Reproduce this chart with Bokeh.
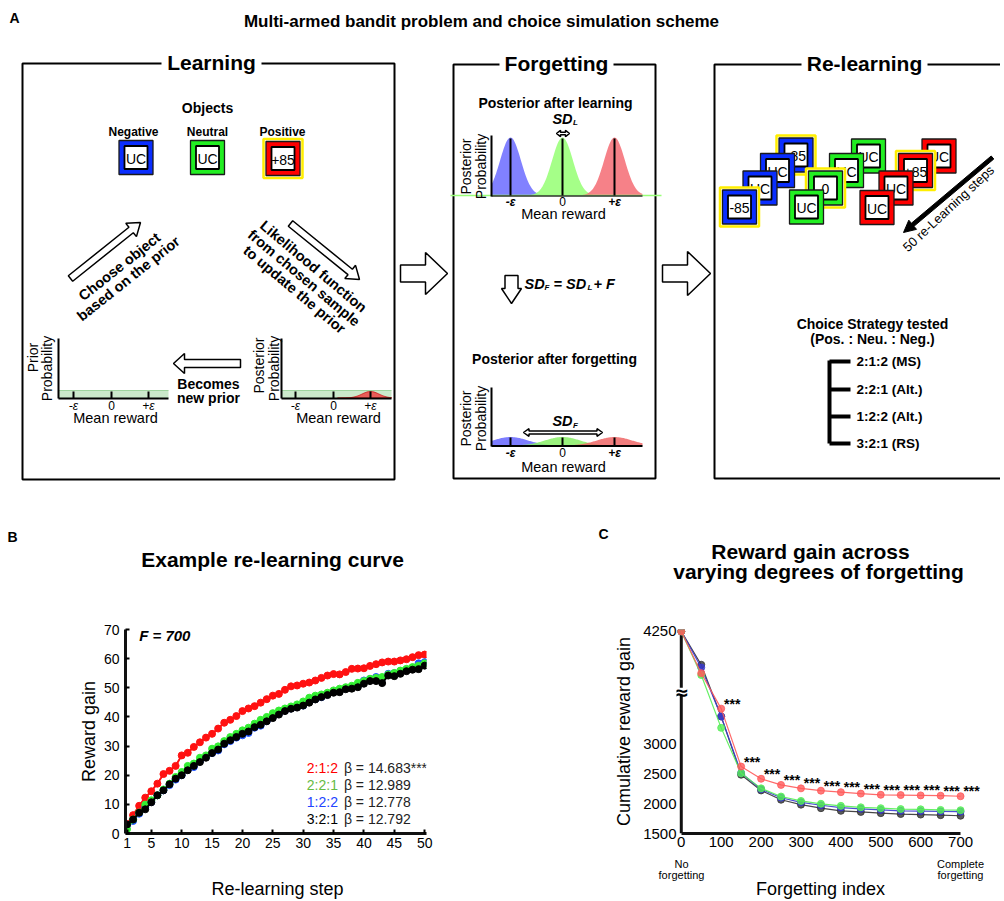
import math
import numpy as np
from bokeh.plotting import figure
from bokeh.layouts import column, row
from bokeh.models import Range1d, FixedTicker
from bokeh.core.properties import value
from bokeh.embed import file_html
from bokeh.resources import INLINE

FONT = "Liberation Sans"

# ---------------- Panel B data (re-learning curve, F = 700) ----------------
steps = list(range(1, 51))
relearn_212 = [3.2, 6.3, 9.5, 12.3, 14.5, 17.1, 20.4, 21.5, 23.2, 26.8,
               27.7, 29.7, 31.3, 32.9, 34.2, 36.0, 38.0, 39.0, 40.3, 42.0,
               42.9, 43.7, 44.9, 46.1, 47.3, 47.9, 49.3, 50.5, 50.8, 51.4,
               51.8, 52.5, 53.4, 54.2, 54.7, 54.6, 55.4, 56.5, 56.6, 56.7,
               57.5, 58.1, 58.7, 59.0, 59.0, 59.4, 59.8, 60.5, 61.2, 61.4]
relearn_221 = [1.5, 4.8, 7.2, 9.9, 11.4, 13.1, 15.1, 17.1, 19.4, 21.1,
               23.2, 24.0, 26.0, 26.8, 29.1, 29.9, 31.7, 33.1, 34.2, 35.4,
               36.3, 37.7, 39.0, 40.0, 41.3, 42.2, 42.9, 43.6, 44.3, 45.3,
               46.6, 47.3, 47.7, 48.3, 49.1, 49.7, 50.2, 50.7, 51.7, 52.3,
               53.1, 53.4, 53.7, 54.6, 55.1, 55.9, 56.5, 57.1, 57.6, 58.4]
relearn_122 = [2.9, 4.3, 6.8, 8.9, 10.8, 13.1, 14.8, 16.6, 18.5, 20.0,
               21.9, 22.8, 24.9, 26.3, 27.6, 28.5, 30.6, 31.7, 32.9, 33.7,
               34.5, 36.3, 37.0, 38.6, 40.0, 41.1, 42.2, 42.9, 43.4, 43.9,
               45.4, 46.1, 46.8, 47.7, 48.6, 48.9, 49.8, 50.2, 50.6, 52.5,
               53.0, 53.7, 53.4, 54.8, 55.0, 55.7, 56.2, 56.8, 58.4, 58.8]
relearn_321 = [3.1, 4.8, 7.1, 8.3, 10.7, 13.1, 14.8, 16.9, 18.8, 20.0,
               21.7, 23.2, 24.5, 26.0, 27.6, 28.8, 30.8, 32.0, 33.1, 34.2,
               35.0, 36.5, 37.3, 38.5, 39.6, 40.8, 42.0, 42.8, 43.2, 43.9,
               44.9, 46.0, 46.8, 47.5, 48.3, 48.5, 49.5, 49.7, 50.2, 51.4,
               52.3, 52.3, 51.6, 54.2, 54.0, 54.8, 55.7, 56.2, 56.4, 57.6]
b_ticks_x = [1, 5, 10, 15, 20, 25, 30, 35, 40, 45, 50]
b_ticks_y = [0, 10, 20, 30, 40, 50, 60, 70]
strategies = ["2:1:2", "2:2:1", "1:2:2", "3:2:1"]
betas = ["\u03b2 = 14.683***", "\u03b2 = 12.989", "\u03b2 = 12.778", "\u03b2 = 12.792"]
strategy_colors = ["#ff0000", "#66bb44", "#2244ff", "#000000"]
curve_colors = ["#ff1111", "#33ee33", "#2255ff", "#000000"]

# ---------------- Panel C data (cumulative reward vs forgetting) ----------------
forget_idx = [0, 50, 100, 150, 200, 250, 300, 350, 400, 450, 500, 550, 600, 650, 700]
cum_212 = [4250, 4003, 3597, 2624, 2419, 2316, 2258, 2219, 2194, 2170, 2150, 2145, 2140, 2135, 2126]
cum_221 = [4250, 3992, 3274, 2512, 2258, 2121, 2047, 1999, 1964, 1940, 1925, 1910, 1906, 1896, 1891]
cum_122 = [4250, 4037, 3465, 2517, 2243, 2101, 2023, 1974, 1935, 1915, 1896, 1881, 1876, 1871, 1867]
cum_321 = [4250, 4053, 3465, 2487, 2223, 2067, 1984, 1925, 1881, 1862, 1842, 1827, 1818, 1808, 1798]
sig_idx = [100, 150, 200, 250, 300, 350, 400, 450, 500, 550, 600, 650, 700]
c_ticks_y = [1500, 2000, 2500, 3000, 4250]
c_ticks_x = [0, 100, 200, 300, 400, 500, 600, 700]
c_break_value = 3882

BREAK = 3900.0
UPPER = 2.84


def warp(v):
    return v if v <= BREAK else BREAK + (v - BREAK) * UPPER


def style_of(bold, italic):
    if bold and italic:
        return "bold italic"
    if bold:
        return "bold"
    if italic:
        return "italic"
    return "normal"


def T(p, x, y, s, size=14, bold=False, italic=False, color="black", align="center",
      baseline="middle", angle=0.0):
    p.text(x=[x], y=[y], text=[s], text_font=value(FONT), text_font_size=f"{size}px",
           text_font_style=style_of(bold, italic), text_color=color, text_align=align,
           text_baseline=baseline, angle=math.radians(angle))


def arrow_poly(x0, y0, x1, y1, sw, hw, hl, double=False):
    dx, dy = x1 - x0, y1 - y0
    L = math.hypot(dx, dy)
    ux, uy = dx / L, dy / L
    nx, ny = -uy, ux
    bx, by = x1 - ux * hl, y1 - uy * hl
    pts = []
    if double:
        ax, ay = x0 + ux * hl, y0 + uy * hl
        pts += [(x0, y0), (ax + nx * hw, ay + ny * hw), (ax + nx * sw, ay + ny * sw)]
    else:
        pts += [(x0 + nx * sw, y0 + ny * sw)]
    pts += [(bx + nx * sw, by + ny * sw), (bx + nx * hw, by + ny * hw), (x1, y1),
            (bx - nx * hw, by - ny * hw), (bx - nx * sw, by - ny * sw)]
    if double:
        pts += [(ax - nx * sw, ay - ny * sw), (ax - nx * hw, ay - ny * hw)]
    else:
        pts += [(x0 - nx * sw, y0 - ny * sw)]
    return [q[0] for q in pts], [q[1] for q in pts]


def draw_arrow(p, x0, y0, x1, y1, sw, hw, hl, fill="white", lw=1.5, double=False):
    xs, ys = arrow_poly(x0, y0, x1, y1, sw, hw, hl, double)
    p.patch(xs, ys, fill_color=fill, line_color="black", line_width=lw)


def obj_square(p, cx, cy, color, label, yellow=False):
    if yellow:
        p.rect([cx], [cy], 39, 39, fill_color="white", line_color="#ffee00", line_width=2.5)
    p.rect([cx], [cy], 34, 34, fill_color=color, line_color="#1a1a1a", line_width=1.3)
    p.rect([cx], [cy], 23, 23, fill_color="white", line_color="black", line_width=1.8)
    T(p, cx, cy + 1, label, size=14)


def canvas(width, height, y0, y1):
    p = figure(width=width, height=height, x_range=Range1d(0, width), y_range=Range1d(y1, y0),
               output_backend="svg", toolbar_location=None, min_border=0,
               x_axis_location=None, y_axis_location=None)
    p.grid.visible = False
    p.outline_line_color = None
    return p


# ======================= Panel A (schematic) + titles of B and C =======================
pa = canvas(1000, 588, 0, 588)

T(pa, 14, 17, "A", size=14, bold=True)
T(pa, 481, 21, "Multi-armed bandit problem and choice simulation scheme", size=17, bold=True)

boxes = [(22, 394, 63, 479, "Learning", 211, 100),
         (453, 655, 64, 478, "Forgetting", 556, 114),
         (714, 1010, 64, 478, "Re-learning", 864, 126)]
for l, r, t, b, title, tx, gap in boxes:
    pa.quad(left=[l], right=[r], top=[t], bottom=[b], fill_color=None,
            line_color="black", line_width=2)
    pa.rect([tx], [t], gap, 8, fill_color="white", line_color=None)
    T(pa, tx, t - 1, title, size=21, bold=True)

# ---- Learning panel ----
T(pa, 207, 107, "Objects", size=14, bold=True)
T(pa, 133, 131, "Negative", size=12, bold=True)
T(pa, 207, 131, "Neutral", size=12, bold=True)
T(pa, 282, 131, "Positive", size=12, bold=True)
obj_square(pa, 135.5, 157, "#0a2eff", "UC")
obj_square(pa, 207, 157, "#22ee22", "UC")
obj_square(pa, 282.5, 158, "#ff0000", "+85", yellow=True)

draw_arrow(pa, 70, 278, 140, 222, 3.5, 8.5, 12)
draw_arrow(pa, 290, 223, 359, 279, 3.5, 8.5, 12)
T(pa, 119, 266, "Choose object", size=14.5, bold=True, angle=38.5)
T(pa, 128, 278, "based on the prior", size=14.5, bold=True, angle=38.5)
T(pa, 313, 266, "Likelihood function", size=14.5, bold=True, angle=-40)
T(pa, 303.5, 277.5, "from chosen sample", size=14.5, bold=True, angle=-40)
T(pa, 294, 289, "to update the prior", size=14.5, bold=True, angle=-40)

for (ax0, ax1, ticks, ylab1, ylab2, lx1, lx2, cy1, cy2, bump) in [
        (58, 168, [73, 111, 148], "Prior", "Probability", 32, 46, 357, 368, False),
        (281, 391, [295, 333, 370], "Posterior", "Probability", 258, 273, 365, 368, True)]:
    pa.quad(left=[ax0], right=[ax1], top=[390], bottom=[398], fill_color="#cbe9cb",
            line_color=None)
    pa.line([ax0, ax1], [390, 390], line_color="#9fd49f", line_width=1)
    if bump:
        bx = np.linspace(337, 391, 60)
        by = 397.5 - 6.5 * np.exp(-((bx - 370) / 12.0) ** 2)
        pa.patch(np.r_[bx, bx[::-1]], np.r_[by, np.full_like(bx, 397.5)],
                 fill_color="#ee4444", fill_alpha=0.85, line_color="#cc1111", line_width=0.8)
    pa.line([ax0, ax0], [338, 398], line_color="black", line_width=2)
    pa.line([ax0, ax1], [398, 398], line_color="black", line_width=2)
    for tx, tl in zip(ticks, ["-\u03b5", "0", "+\u03b5"]):
        pa.line([tx, tx], [398, 391], line_color="black", line_width=2)
        T(pa, tx, 405, tl, size=12, italic=(tl != "0"))
    T(pa, (ax0 + ax1) / 2 + 2, 417, "Mean reward", size=14.5)
    T(pa, lx1, cy1, ylab1, size=14, angle=90)
    T(pa, lx2, cy2, ylab2, size=14, angle=90)

draw_arrow(pa, 240, 363, 173, 363, 4, 10, 11)
T(pa, 208, 383, "Becomes", size=14, bold=True)
T(pa, 208, 397, "new prior", size=14, bold=True)

draw_arrow(pa, 400, 273, 447, 273, 8.5, 21, 22)
draw_arrow(pa, 662, 273, 710, 273, 8.5, 22, 23)

# ---- Forgetting panel ----
T(pa, 555, 102, "Posterior after learning", size=14, bold=True)
T(pa, 562, 118, "SD", size=14.5, bold=True, italic=True)
T(pa, 575, 122, "L", size=8, bold=True, italic=True)
draw_arrow(pa, 556, 133, 569, 133, 1.2, 3.2, 4, double=True)

X0, EPS = 562.0, 52.0
gx = np.linspace(491, 642, 200)
for c, col in [(-1, "#6f6fff"), (0, "#99ff77"), (1, "#f57077")]:
    gy = 195 - 58 * np.exp(-(((gx - X0) / EPS) - c) ** 2 / (2 * 0.2 ** 2))
    pa.patch(np.r_[gx, gx[::-1]], np.r_[gy, np.full_like(gx, 195)], fill_color=col,
             fill_alpha=0.88, line_color=None)
pa.line([450, 661], [195, 195], line_color="#99ff77", line_width=1.5)
pa.line([491, 642], [195.5, 195.5], line_color="#333333", line_width=1.5)
pa.line([491, 491], [135, 196], line_color="black", line_width=2)
for c in (-1, 0, 1):
    pa.line([X0 + c * EPS] * 2, [195, 138], line_color="black", line_width=2)
for c, tl in zip((-1, 0, 1), ["-\u03b5", "0", "+\u03b5"]):
    T(pa, X0 + c * EPS, 201, tl, size=12, bold=(tl != "0"), italic=(tl != "0"))
T(pa, 563, 213, "Mean reward", size=14.5)
T(pa, 465, 166, "Posterior", size=14, angle=90)
T(pa, 480, 166, "Probability", size=14, angle=90)

draw_arrow(pa, 511, 275, 511, 303, 6.5, 10, 15)
T(pa, 524, 283, "SD", size=14.5, bold=True, italic=True, align="left")
T(pa, 544, 287, "F", size=8, bold=True, italic=True, align="left")
T(pa, 553, 283, "= SD", size=14.5, bold=True, italic=True, align="left")
T(pa, 587, 287, "L", size=8, bold=True, italic=True, align="left")
T(pa, 593, 283, "+ F", size=14.5, bold=True, italic=True, align="left")

T(pa, 554, 358, "Posterior after forgetting", size=14, bold=True)
for c, col in [(-1, "#6666ff"), (0, "#88ee66"), (1, "#ee6666")]:
    gy = 445 - 8.5 * np.exp(-(((gx - X0) / EPS) - c) ** 2 / (2 * 0.33 ** 2))
    pa.patch(np.r_[gx, gx[::-1]], np.r_[gy, np.full_like(gx, 445)], fill_color=col,
             fill_alpha=0.85, line_color=None)
pa.line([491, 491], [387, 446], line_color="black", line_width=2)
pa.line([491, 642], [445.5, 445.5], line_color="black", line_width=2)
for c in (-1, 0, 1):
    pa.line([X0 + c * EPS] * 2, [445, 437], line_color="black", line_width=2)
for c, tl in zip((-1, 0, 1), ["-\u03b5", "0", "+\u03b5"]):
    T(pa, X0 + c * EPS, 452, tl, size=12, bold=(tl != "0"), italic=(tl != "0"))
T(pa, 563, 466, "Mean reward", size=14.5)
T(pa, 465, 418, "Posterior", size=14, angle=90)
T(pa, 480, 418, "Probability", size=14, angle=90)
T(pa, 562, 420, "SD", size=14.5, bold=True, italic=True)
T(pa, 575, 425, "F", size=8, bold=True, italic=True)
draw_arrow(pa, 523, 432, 602, 432, 1.5, 3.8, 5.5, double=True)

# ---- Re-learning panel ----
relearn_objs = [
    (795.5, 154.5, "#0a2eff", "-85", True), (868, 155.5, "#22ee22", "UC", False),
    (938.5, 155.5, "#ff0000", "UC", False), (777, 170, "#0a2eff", "UC", False),
    (846, 170, "#22ee22", "UC", False), (915, 170, "#ff0000", "+85", True),
    (759.5, 187.5, "#0a2eff", "UC", False), (825, 187.5, "#22ee22", "0", True),
    (895.5, 187.5, "#ff0000", "UC", False), (739, 206.5, "#0a2eff", "-85", True),
    (806, 206.5, "#22ee22", "UC", False), (876.5, 207, "#ff0000", "UC", False)]
for cx, cy, col, lab, yel in sorted(relearn_objs, key=lambda o: o[1]):
    obj_square(pa, cx, cy, col, lab, yellow=yel)

draw_arrow(pa, 992, 157, 903, 232, 2, 6, 12, fill="black", lw=1)
T(pa, 948, 208, "50 re-Learning steps", size=13, angle=43)

T(pa, 872, 323, "Choice Strategy tested", size=14, bold=True)
T(pa, 872, 338, "(Pos. : Neu. : Neg.)", size=14, bold=True)
choice_labels = ["2:1:2 (MS)", "2:2:1 (Alt.)", "1:2:2 (Alt.)", "3:2:1 (RS)"]
choice_y = [361, 389, 416, 443]
pa.line([829, 829], [360, 443], line_color="black", line_width=4)
for cy, lab in zip(choice_y, choice_labels):
    pa.line([829, 850], [cy, cy], line_color="black", line_width=4)
    T(pa, 856, cy, lab, size=13.5, bold=True, align="left")

# titles of panels B and C
T(pa, 12, 536, "B", size=14, bold=True)
T(pa, 272, 559, "Example re-learning curve", size=21, bold=True)
T(pa, 603, 533, "C", size=14, bold=True)
T(pa, 810, 551, "Reward gain across", size=21, bold=True)
T(pa, 818, 571, "varying degrees of forgetting", size=21, bold=True)


# ======================= Panel B =======================
def style_axes(p, size="14px"):
    p.grid.visible = False
    p.outline_line_color = None
    for ax in (p.xaxis, p.yaxis):
        ax.axis_line_width = 3
        ax.axis_line_color = "#111111"
        ax.major_tick_in = 4
        ax.major_tick_out = 0
        ax.major_tick_line_width = 2
        ax.minor_tick_line_color = None
        ax.major_label_text_font = FONT
        ax.major_label_text_font_size = size
        ax.major_label_text_color = "black"
        ax.axis_label_text_font = FONT
        ax.axis_label_text_font_size = "18px"
        ax.axis_label_text_font_style = "normal"
        ax.axis_label_text_color = "black"


pb = figure(width=590, height=270, x_range=Range1d(0.75, 50.3), y_range=Range1d(0, 70),
            output_backend="svg", toolbar_location=None,
            min_border_left=125, min_border_right=164, min_border_top=41, min_border_bottom=25)
style_axes(pb)
pb.xaxis.ticker = FixedTicker(ticks=b_ticks_x)
pb.yaxis.ticker = FixedTicker(ticks=b_ticks_y)
pb.yaxis.axis_label = "Reward gain"
pb.xaxis.major_label_standoff = 4
pb.yaxis.major_label_standoff = 6
pb.yaxis.axis_label_standoff = 2

for ys, col in [(relearn_212, curve_colors[0]), (relearn_122, curve_colors[2]),
                (relearn_221, curve_colors[1]), (relearn_321, curve_colors[3])]:
    pb.line(steps, ys, line_color=col, line_width=2)
    pb.scatter(steps, ys, size=7, fill_color=col, line_color=col)

pb.text(x=[3.0], y=[68.0], text=["F = 700"], text_font=value(FONT), text_font_size="15px",
        text_font_style="bold italic", text_baseline="middle", text_align="left")
leg_y = [22.6, 16.8, 10.8, 4.9]
pb.text(x=[30.6] * 4, y=leg_y, text=strategies, text_font=value(FONT), text_font_size="14px",
        text_color=strategy_colors, text_baseline="middle", text_align="left")
pb.text(x=[36.7] * 4, y=leg_y, text=betas, text_font=value(FONT), text_font_size="14px",
        text_color="#222222", text_baseline="middle", text_align="left")

# ======================= Panel C =======================
pc = figure(width=410, height=270, x_range=Range1d(-12, 760), y_range=Range1d(1500, 4926),
            output_backend="svg", toolbar_location=None,
            min_border_left=86, min_border_right=16, min_border_top=14, min_border_bottom=23)
style_axes(pc, size="15px")
pc.xaxis.bounds = (0, 700)
pc.xaxis.ticker = FixedTicker(ticks=c_ticks_x)
pc.yaxis.ticker = FixedTicker(ticks=[warp(v) for v in c_ticks_y])
pc.yaxis.major_label_overrides = {warp(v): str(v) for v in c_ticks_y}
pc.yaxis.axis_label = "Cumulative reward gain"
pc.yaxis.axis_line_color = None
pc.xaxis.major_label_standoff = 3
pc.yaxis.major_label_standoff = 0
pc.yaxis.axis_label_standoff = 6
pc.xaxis.major_tick_in = 0
pc.yaxis.major_tick_in = 0

# y axis line at x = 0 with an axis-break mark
pc.line([0, 0], [1500, 4915], line_color="#111111", line_width=3)
pc.rect([0], [c_break_value], width=13, height=8, width_units="screen", height_units="screen",
        fill_color="white", line_color=None)
pc.text(x=[0], y=[c_break_value], text=["\u2248"], text_font=value("DejaVu Sans"),
        text_font_size="19px", text_font_style="bold", text_align="center",
        text_baseline="middle")

c_series = [(cum_321, "#333333"), (cum_122, "#3a3ad0"), (cum_221, "#55ee55"), (cum_212, "#ff5a5a")]
for vals, col in c_series:
    wy = [warp(v) for v in vals]
    pc.line(forget_idx, wy, line_color=col, line_width=1.2, line_alpha=0.9)
    pc.scatter(forget_idx, wy, size=7, fill_color=col, line_color=col, fill_alpha=0.8,
               line_alpha=0.8)

sig_y = [warp(v) for x, v in zip(forget_idx, cum_212) if x in sig_idx]
pc.text(x=sig_idx, y=sig_y, text=["***"] * len(sig_idx), text_font=value(FONT),
        text_font_size="14px", text_font_style="bold", text_align="center",
        text_baseline="middle", x_offset=11, y_offset=-5)

# ======================= bottom strip: axis titles =======================
pbot = canvas(1000, 41, 858, 899)
T(pbot, 277, 888, "Re-learning step", size=18)
T(pbot, 820, 888, "Forgetting index", size=18)
T(pbot, 681, 863, "No", size=11)
T(pbot, 681, 874, "forgetting", size=11)
T(pbot, 960, 863, "Complete", size=11)
T(pbot, 960, 874, "forgetting", size=11)

layout = column(pa, row(pb, pc), pbot)
open("out.html", "w").write(file_html(layout, INLINE))
